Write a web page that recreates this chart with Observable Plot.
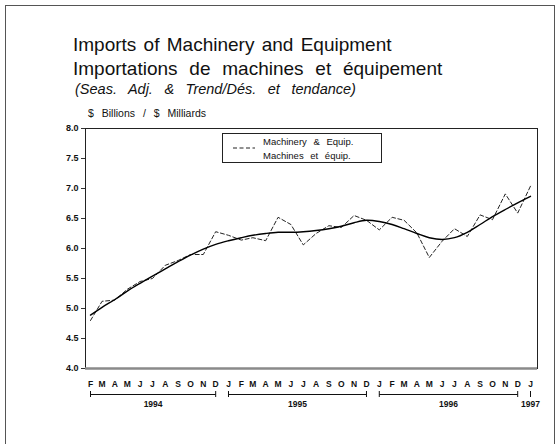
<!DOCTYPE html>
<html><head><meta charset="utf-8">
<script src="https://cdn.jsdelivr.net/npm/d3@7"></script>
<script src="https://cdn.jsdelivr.net/npm/@observablehq/plot@0.6"></script>
<style>
body{margin:0;background:#fff;font-family:"Liberation Sans",Arial,sans-serif}
#page{position:relative;width:560px;height:444px;overflow:hidden;background:#fff}
#border{position:absolute;left:5px;top:5px;width:548px;height:460px;border:1px solid #555;z-index:3;pointer-events:none}
.t{position:absolute;white-space:nowrap;color:#111;z-index:2}
#t1{left:73px;top:36px;font-size:19px;line-height:18px;word-spacing:2px}
#t2{left:73px;top:60px;font-size:19px;line-height:18px;word-spacing:6.5px}
#t3{left:75px;top:82px;font-size:14.5px;line-height:15px;font-style:italic;word-spacing:7.5px}
#t4{left:88px;top:108px;font-size:10.5px;line-height:11px;word-spacing:5px}
#chart{position:absolute;left:0;top:105px;z-index:1}
#legend{position:absolute;left:222px;top:133px;width:158px;height:28px;border:1px solid #222;background:#fff;font-size:9.5px;word-spacing:4px;color:#111;z-index:2}
#legend svg{position:absolute;left:9px;top:10px}
#legend .l1{position:absolute;left:40px;top:2px;white-space:nowrap}
#legend .l2{position:absolute;left:40px;top:16px;white-space:nowrap}
</style></head>
<body>
<div id="page">
  <div id="border"></div>
  <div class="t" id="t1">Imports of Machinery and Equipment</div>
  <div class="t" id="t2">Importations de machines et équipement</div>
  <div class="t" id="t3">(Seas. Adj. &amp; Trend/Dés. et tendance)</div>
  <div class="t" id="t4">$ Billions / $ Milliards</div>
  <div id="chart"></div>
  <div id="legend">
    <svg width="24" height="8"><line x1="1" y1="4" x2="23" y2="4" stroke="#222" stroke-width="1" stroke-dasharray="4,2.5"/></svg>
    <div class="l1">Machinery &amp; Equip.</div>
    <div class="l2">Machines et équip.</div>
  </div>
</div>
<script>
const months = [
  "1994-02-01","1994-03-01","1994-04-01","1994-05-01","1994-06-01","1994-07-01","1994-08-01","1994-09-01","1994-10-01","1994-11-01","1994-12-01",
  "1995-01-01","1995-02-01","1995-03-01","1995-04-01","1995-05-01","1995-06-01","1995-07-01","1995-08-01","1995-09-01","1995-10-01","1995-11-01","1995-12-01",
  "1996-01-01","1996-02-01","1996-03-01","1996-04-01","1996-05-01","1996-06-01","1996-07-01","1996-08-01","1996-09-01","1996-10-01","1996-11-01","1996-12-01",
  "1997-01-01"
];
const monthLetters = [
  "F","M","A","M","J","J","A","S","O","N","D",
  "J","F","M","A","M","J","J","A","S","O","N","D",
  "J","F","M","A","M","J","J","A","S","O","N","D",
  "J"
];
const actual = [
  4.80,5.12,5.14,5.32,5.45,5.50,5.72,5.80,5.90,5.90,6.28,
  6.22,6.14,6.18,6.13,6.52,6.40,6.06,6.25,6.38,6.35,6.55,6.47,
  6.31,6.52,6.47,6.26,5.85,6.12,6.33,6.20,6.56,6.48,6.91,6.59,
  7.04
];
const trend = [
  4.89,5.02,5.15,5.29,5.42,5.54,5.66,5.78,5.89,5.99,6.07,
  6.13,6.18,6.22,6.25,6.27,6.27,6.28,6.30,6.33,6.37,6.43,6.47,
  6.45,6.40,6.33,6.25,6.18,6.15,6.18,6.27,6.40,6.53,6.65,6.76,
  6.87
];
const yTicks = [4.0,4.5,5.0,5.5,6.0,6.5,7.0,7.5,8.0];
const years = ["1994","1995","1996","1997"];
const yearStart = ["1994-02-01","1995-01-01","1996-01-01","1997-01-01"];
const yearEnd = ["1994-12-01","1995-12-01","1996-12-01","1997-01-01"];

const dates = months.map(m => new Date(m));
const letterByTime = new Map(dates.map((d, i) => [+d, monthLetters[i]]));
const rows = dates.map((d, i) => ({date: d, actual: actual[i], trend: trend[i]}));
const yearRows = years.map((y, i) => {
  const s = new Date(yearStart[i]), e = new Date(yearEnd[i]);
  return {year: y, start: s, end: e, mid: new Date((+s + +e) / 2)};
});
const ends = yearRows.flatMap(r => +r.start === +r.end ? [r.start] : [r.start, r.end]);

const chart = Plot.plot({
  width: 560, height: 339,
  marginLeft: 85, marginRight: 23, marginTop: 23, marginBottom: 76,
  x: {type: "utc", domain: [dates[0], dates[dates.length - 1]], range: [90, 530]},
  y: {domain: [4, 8]},
  style: {fontFamily: "Liberation Sans, Arial, sans-serif", background: "transparent", color: "#111", overflow: "visible"},
  marks: [
    Plot.frame({stroke: "#222", strokeWidth: 1}),
    Plot.ruleY([4], {stroke: "#8a8a8a", strokeWidth: 2.5}),
    Plot.axisY({ticks: yTicks, tickFormat: d3.format(".1f"), tickSize: 4, tickPadding: 3, fontWeight: "bold", fontSize: 9, label: null, stroke: "#333"}),
    Plot.axisX({ticks: dates, tickFormat: d => letterByTime.get(+d), tickSize: 0, tickPadding: 12, fontWeight: "bold", fontSize: 8.5, label: null}),
    Plot.line(rows, {x: "date", y: "actual", stroke: "#222", strokeWidth: 1, strokeDasharray: "4,2.5"}),
    Plot.line(rows, {x: "date", y: "trend", stroke: "#000", strokeWidth: 1.4, curve: "catmull-rom"}),
    Plot.link(yearRows.filter(r => +r.start !== +r.end), {x1: "start", x2: "end", y1: () => 4, y2: () => 4, dy: 26, stroke: "#111", strokeWidth: 1}),
    Plot.tickX(ends, {x: d => d, dy: 26, insetTop: 237, insetBottom: -3, stroke: "#111", strokeWidth: 1}),
    Plot.text(yearRows, {x: "mid", y: () => 4, dy: 36, text: "year", fontWeight: "bold", fontSize: 8.5, fill: "#111"})
  ]
});
document.getElementById("chart").appendChild(chart);
</script>
</body></html>
